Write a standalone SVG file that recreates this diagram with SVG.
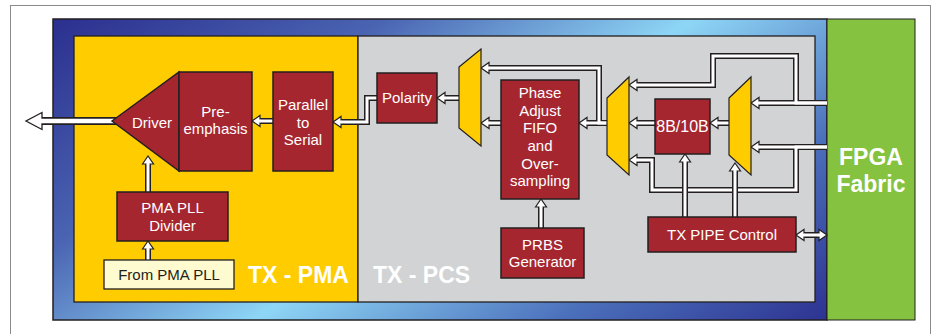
<svg xmlns="http://www.w3.org/2000/svg" width="936" height="334" viewBox="0 0 936 334">
<defs>
<linearGradient id="bg" gradientUnits="userSpaceOnUse" x1="275" y1="-133" x2="668" y2="441">
<stop offset="0" stop-color="#2b2f8e"/>
<stop offset="0.27" stop-color="#4a64b2"/>
<stop offset="0.52" stop-color="#8ed6f6"/>
<stop offset="0.77" stop-color="#4b6fbb"/>
<stop offset="1" stop-color="#2b2f8e"/>
</linearGradient>
<marker id="ah" markerUnits="userSpaceOnUse" markerWidth="12" markerHeight="14" refX="0" refY="0" orient="auto" overflow="visible">
<path d="M0,-5.5 L8,0 L0,5.5 Z" fill="#fff" stroke="#231f20" stroke-width="1.2" stroke-linejoin="miter"/>
<path d="M-1,0 H1.5" stroke="#fff" stroke-width="3"/>
</marker>
<marker id="ahs" markerUnits="userSpaceOnUse" markerWidth="12" markerHeight="14" refX="0" refY="0" orient="auto-start-reverse" overflow="visible">
<path d="M0,-5.5 L8,0 L0,5.5 Z" fill="#fff" stroke="#231f20" stroke-width="1.2"/>
<path d="M-1,0 H1.5" stroke="#fff" stroke-width="3"/>
</marker>
<marker id="ahL" markerUnits="userSpaceOnUse" markerWidth="20" markerHeight="20" refX="0" refY="0" orient="auto" overflow="visible">
<path d="M0,-8.5 L16,0 L0,8.5 Z" fill="#fff" stroke="#231f20" stroke-width="1.3"/>
<path d="M-1,0 H2" stroke="#fff" stroke-width="4.5"/>
</marker>
<style>
.nd{fill:#a6262f;stroke:#231f20;stroke-width:1.5}
.mux{fill:#ffcc00;stroke:#231f20;stroke-width:1.2}
.t{font-family:"Liberation Sans",Arial,sans-serif;font-size:15px;fill:#fff;text-anchor:middle}
.tb{font-family:"Liberation Sans",Arial,sans-serif;font-weight:bold;font-size:23px;fill:#fff}
.o path{fill:none;stroke:#231f20;stroke-width:6;stroke-linejoin:miter}
.i path{fill:none;stroke:#fff;stroke-width:3;stroke-linejoin:miter;marker-end:url(#ah)}
</style>
</defs>
<rect x="0" y="0" width="936" height="334" fill="#fff"/>
<rect x="10.5" y="5.5" width="920" height="340" fill="#fff" stroke="#8a8a8a" stroke-width="1"/>
<g id="background">
<rect x="53" y="19" width="774" height="301" fill="url(#bg)" stroke="#231f20" stroke-width="1.5"/>
<rect x="74" y="36" width="284" height="266" fill="#ffcc00" stroke="#231f20" stroke-width="1.3"/>
<rect x="358" y="36" width="457" height="266" fill="#d1d3d4" stroke="#231f20" stroke-width="1.3"/>
<text class="tb" x="248" y="283">TX - PMA</text>
<text class="tb" x="373" y="283">TX - PCS</text>
</g>
<g id="fpga-fabric">
<rect x="827" y="19" width="88" height="301" fill="#85c240" stroke="#231f20" stroke-width="1"/>
<text class="tb" x="871" y="165" text-anchor="middle">FPGA</text>
<text class="tb" x="871" y="192" text-anchor="middle">Fabric</text>
</g>
<g id="connectors">
<g class="o">
<path d="M116,121 H42" stroke-width="8" style="stroke-width:8"/>
<path d="M273,121 H260"/>
<path d="M377,98 H367 V122 H341"/>
<path d="M459,98 H445"/>
<path d="M501,123 H489"/>
<path d="M607,123 H587"/>
<path d="M607,123 H599 V68 H489"/>
<path d="M655,123 H637"/>
<path d="M729,123 H718"/>
<path d="M827,103 H759"/>
<path d="M827,103 H796 V56 H713 V85 H637"/>
<path d="M827,147 H759"/>
<path d="M827,147 H796 V190 H652 V160 H637"/>
<path d="M541,228 V207"/>
<path d="M148,192 V164"/>
<path d="M148,260 V249"/>
</g>
<g class="i">
<path d="M116,121 H42" style="stroke-width:4.5;marker-end:url(#ahL)"/>
<path d="M273,121 H260"/>
<path d="M377,98 H367 V122 H341"/>
<path d="M459,98 H445"/>
<path d="M501,123 H489"/>
<path d="M607,123 H587"/>
<path d="M607,123 H599 V68 H489"/>
<path d="M655,123 H637"/>
<path d="M729,123 H718"/>
<path d="M827,103 H759"/>
<path d="M827,103 H796 V56 H713 V85 H637"/>
<path d="M827,147 H759"/>
<path d="M827,147 H796 V190 H652 V160 H637"/>
<path d="M541,228 V207"/>
<path d="M148,192 V164"/>
<path d="M148,260 V249"/>
</g>
<g class="o">
<path d="M685,217 V162"/>
<path d="M735,217 V171"/>
<path d="M804,235 H819"/>
</g>
<g class="i">
<path d="M685,217 V162"/>
<path d="M735,217 V171"/>
<path d="M804,235 H819" style="marker-start:url(#ahs);marker-end:url(#ahs)"/>
</g>
</g>
<g id="driver">
<polygon class="nd" points="112,121 179,72 179,171"/>
<text class="t" x="152" y="128">Driver</text>
</g>
<g id="pre-emphasis">
<rect class="nd" x="179" y="72" width="73" height="99"/>
<text class="t" x="215.5" y="117">Pre-</text>
<text class="t" x="215.5" y="134">emphasis</text>
</g>
<g id="parallel-to-serial">
<rect class="nd" x="273" y="72" width="60" height="99"/>
<text class="t" x="303" y="110">Parallel</text>
<text class="t" x="303" y="128">to</text>
<text class="t" x="303" y="145">Serial</text>
</g>
<g id="polarity">
<rect class="nd" x="377" y="73" width="60" height="50"/>
<text class="t" x="407" y="103">Polarity</text>
</g>
<g id="mux1">
<polygon class="mux" points="459,67 481,49 481,146 459,128"/>
</g>
<g id="phase-fifo">
<rect class="nd" x="501" y="80" width="78" height="119"/>
<text class="t" x="540" y="98">Phase</text>
<text class="t" x="540" y="116">Adjust</text>
<text class="t" x="540" y="133">FIFO</text>
<text class="t" x="540" y="151">and</text>
<text class="t" x="540" y="169">Over-</text>
<text class="t" x="540" y="186">sampling</text>
</g>
<g id="prbs">
<rect class="nd" x="501" y="228" width="83" height="50"/>
<text class="t" x="542.5" y="250">PRBS</text>
<text class="t" x="542.5" y="267">Generator</text>
</g>
<g id="mux2">
<polygon class="mux" points="607,98 629,77 629,175 607,155"/>
</g>
<g id="enc8b10b">
<rect class="nd" x="655" y="99" width="55" height="55"/>
<text class="t" x="682.5" y="132" style="font-size:16px">8B/10B</text>
</g>
<g id="mux3">
<polygon class="mux" points="729,98 751,77 751,175 729,155"/>
</g>
<g id="tx-pipe-control">
<rect class="nd" x="648" y="217" width="148" height="35"/>
<text class="t" x="722" y="240">TX PIPE Control</text>
</g>
<g id="pma-pll-divider">
<rect class="nd" x="117" y="192" width="111" height="49"/>
<text class="t" x="172.5" y="213">PMA PLL</text>
<text class="t" x="172.5" y="231">Divider</text>
</g>
<g id="from-pma-pll">
<rect x="104" y="260" width="130" height="29" fill="#fffbd0" stroke="#231f20" stroke-width="1.3"/>
<text class="t" x="169" y="280" style="fill:#231f20">From PMA PLL</text>
</g>
</svg>
